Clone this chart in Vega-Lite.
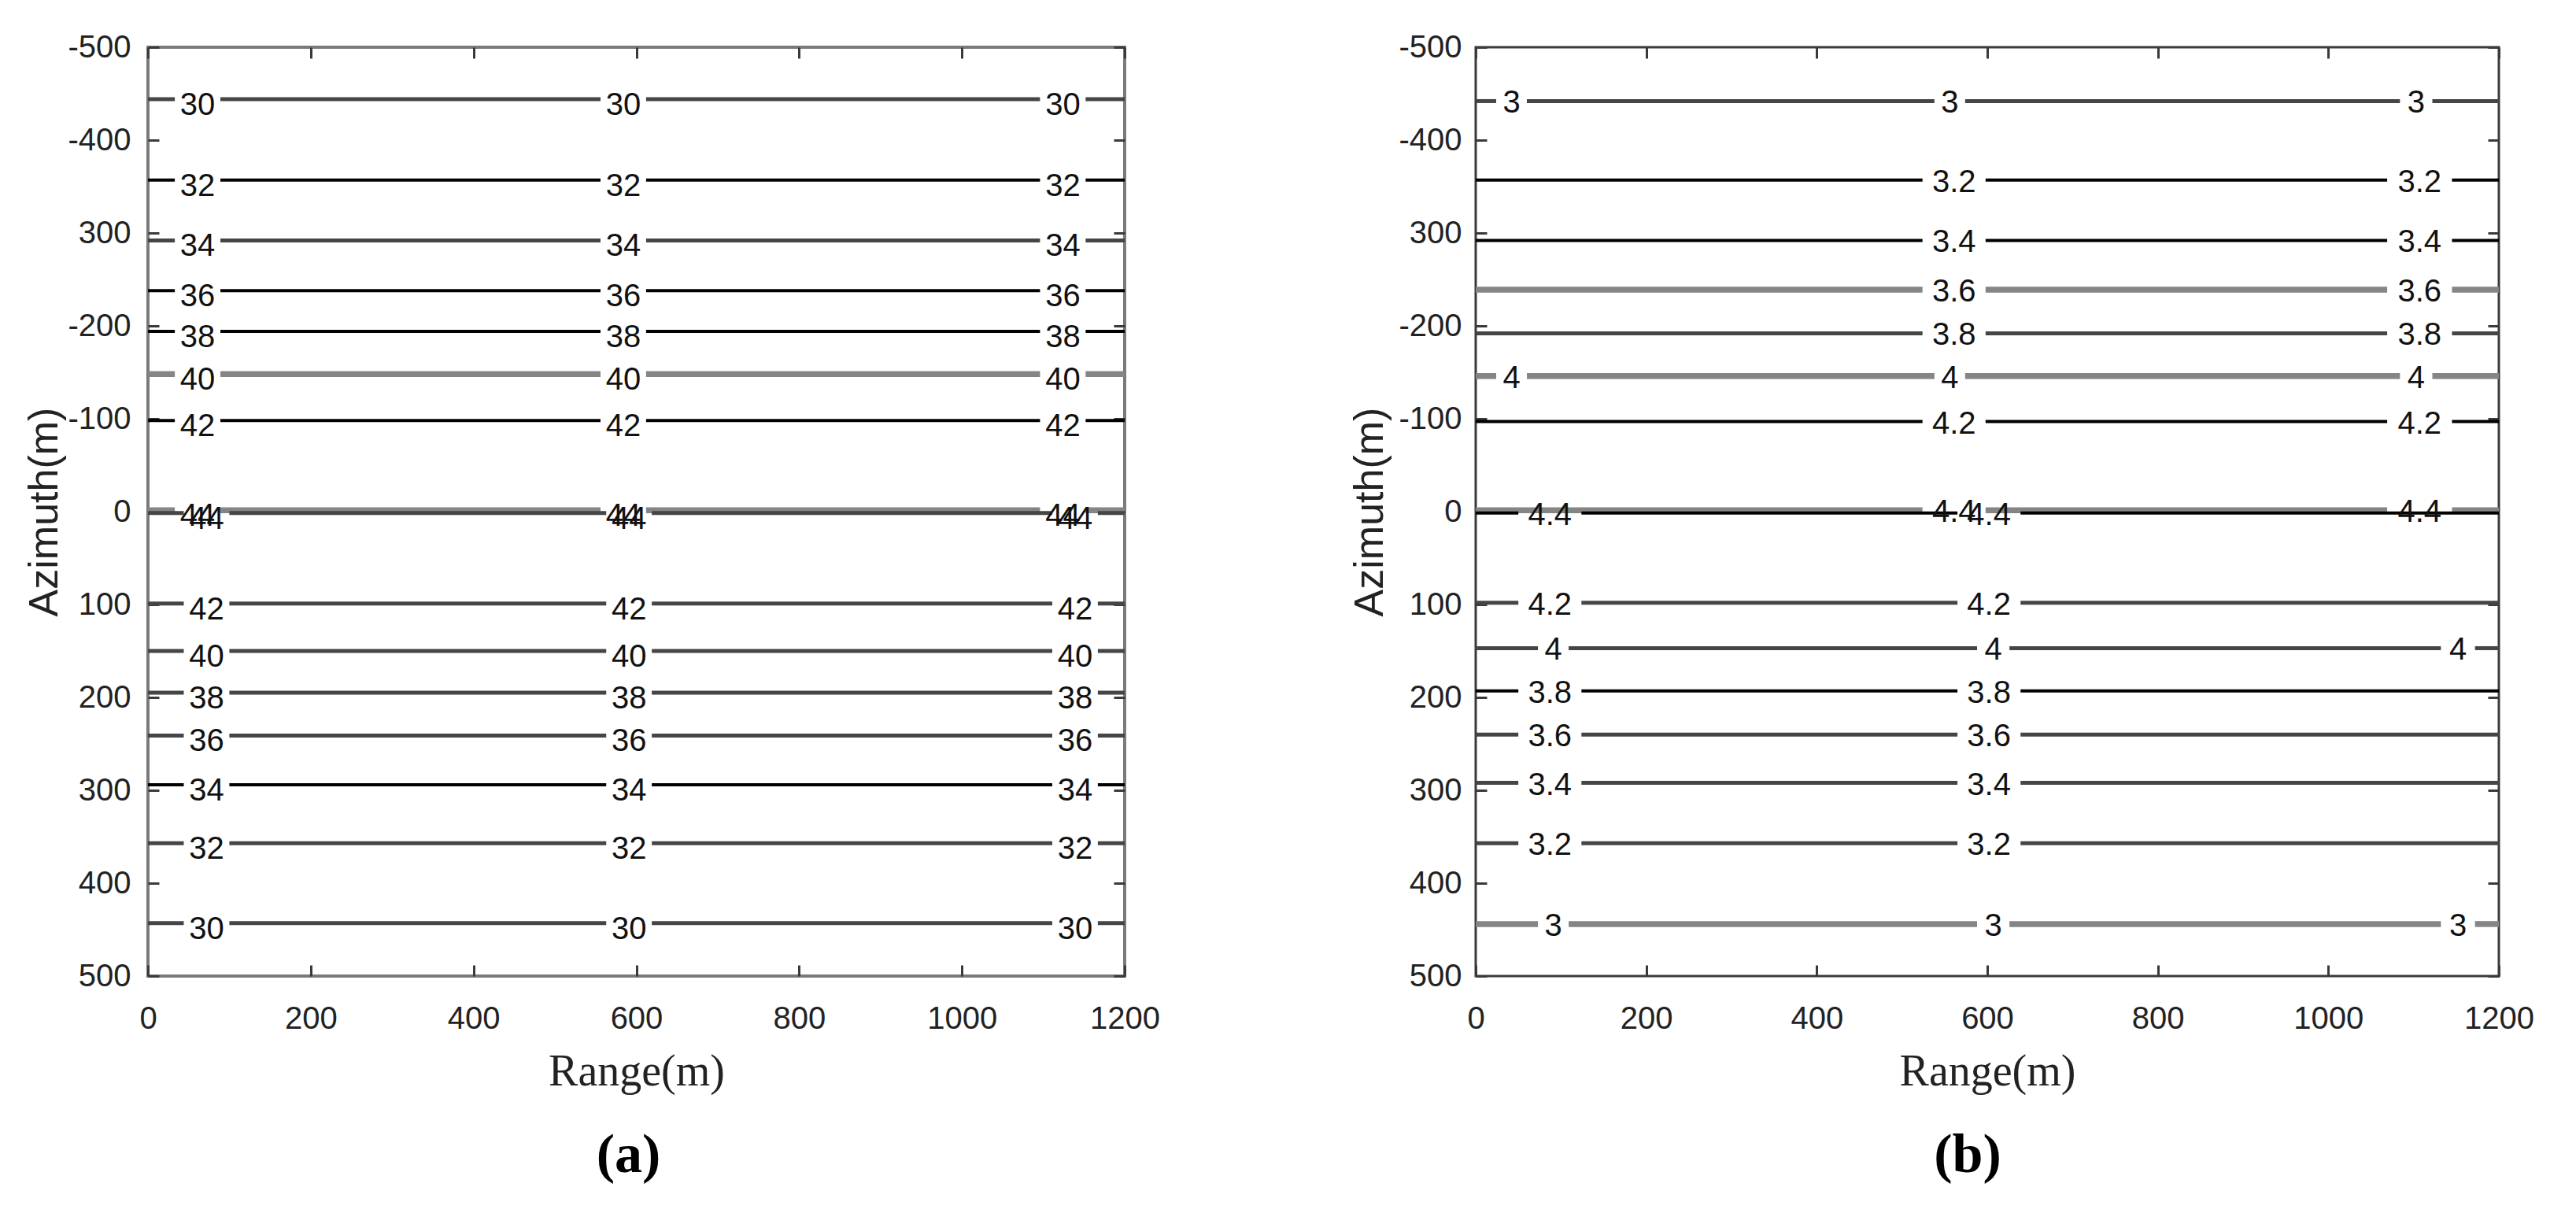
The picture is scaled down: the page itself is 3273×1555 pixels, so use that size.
{
  "$schema": "https://vega.github.io/schema/vega-lite/v6.json",
  "background": "white",
  "padding": {"left": 28, "top": 38, "right": 5, "bottom": 5},
  "spacing": 237,
  "config": {
    "axis": {"grid": false, "domain": false, "tickColor": "#3a3a3a", "tickWidth": 3, "tickSize": -14, "labelColor": "#222222", "titleColor": "#222222", "labelFlush": false, "labelOverlap": false},
    "title": {"color": "#000000"}
  },
  "datasets": {
    "seg": [
      {"p":"a","v":"30","y":-444,"x":0,"x2":33,"k":"dark"},{"p":"a","v":"30","y":-444,"x":89,"x2":556,"k":"dark"},{"p":"a","v":"30","y":-444,"x":612,"x2":1096,"k":"dark"},{"p":"a","v":"30","y":-444,"x":1152,"x2":1200,"k":"dark"},
      {"p":"a","v":"32","y":-357,"x":0,"x2":33,"k":"black"},{"p":"a","v":"32","y":-357,"x":89,"x2":556,"k":"black"},{"p":"a","v":"32","y":-357,"x":612,"x2":1096,"k":"black"},{"p":"a","v":"32","y":-357,"x":1152,"x2":1200,"k":"black"},
      {"p":"a","v":"34","y":-292,"x":0,"x2":33,"k":"dark"},{"p":"a","v":"34","y":-292,"x":89,"x2":556,"k":"dark"},{"p":"a","v":"34","y":-292,"x":612,"x2":1096,"k":"dark"},{"p":"a","v":"34","y":-292,"x":1152,"x2":1200,"k":"dark"},
      {"p":"a","v":"36","y":-238,"x":0,"x2":33,"k":"black"},{"p":"a","v":"36","y":-238,"x":89,"x2":556,"k":"black"},{"p":"a","v":"36","y":-238,"x":612,"x2":1096,"k":"black"},{"p":"a","v":"36","y":-238,"x":1152,"x2":1200,"k":"black"},
      {"p":"a","v":"38","y":-194,"x":0,"x2":33,"k":"black"},{"p":"a","v":"38","y":-194,"x":89,"x2":556,"k":"black"},{"p":"a","v":"38","y":-194,"x":612,"x2":1096,"k":"black"},{"p":"a","v":"38","y":-194,"x":1152,"x2":1200,"k":"black"},
      {"p":"a","v":"40","y":-148,"x":0,"x2":33,"k":"gray"},{"p":"a","v":"40","y":-148,"x":89,"x2":556,"k":"gray"},{"p":"a","v":"40","y":-148,"x":612,"x2":1096,"k":"gray"},{"p":"a","v":"40","y":-148,"x":1152,"x2":1200,"k":"gray"},
      {"p":"a","v":"42","y":-98,"x":0,"x2":33,"k":"black"},{"p":"a","v":"42","y":-98,"x":89,"x2":556,"k":"black"},{"p":"a","v":"42","y":-98,"x":612,"x2":1096,"k":"black"},{"p":"a","v":"42","y":-98,"x":1152,"x2":1200,"k":"black"},
      {"p":"a","v":"44","y":-1.5,"x":0,"x2":33,"k":"gray"},{"p":"a","v":"44","y":-1.5,"x":89,"x2":556,"k":"gray"},{"p":"a","v":"44","y":-1.5,"x":612,"x2":1096,"k":"gray"},{"p":"a","v":"44","y":-1.5,"x":1152,"x2":1200,"k":"gray"},
      {"p":"a","v":"44","y":1.5,"x":0,"x2":44,"k":"dark"},{"p":"a","v":"44","y":1.5,"x":100,"x2":563,"k":"dark"},{"p":"a","v":"44","y":1.5,"x":619,"x2":1111,"k":"dark"},{"p":"a","v":"44","y":1.5,"x":1167,"x2":1200,"k":"dark"},
      {"p":"a","v":"42","y":99,"x":0,"x2":44,"k":"dark"},{"p":"a","v":"42","y":99,"x":100,"x2":563,"k":"dark"},{"p":"a","v":"42","y":99,"x":619,"x2":1111,"k":"dark"},{"p":"a","v":"42","y":99,"x":1167,"x2":1200,"k":"dark"},
      {"p":"a","v":"40","y":150,"x":0,"x2":44,"k":"dark"},{"p":"a","v":"40","y":150,"x":100,"x2":563,"k":"dark"},{"p":"a","v":"40","y":150,"x":619,"x2":1111,"k":"dark"},{"p":"a","v":"40","y":150,"x":1167,"x2":1200,"k":"dark"},
      {"p":"a","v":"38","y":195,"x":0,"x2":44,"k":"dark"},{"p":"a","v":"38","y":195,"x":100,"x2":563,"k":"dark"},{"p":"a","v":"38","y":195,"x":619,"x2":1111,"k":"dark"},{"p":"a","v":"38","y":195,"x":1167,"x2":1200,"k":"dark"},
      {"p":"a","v":"36","y":241,"x":0,"x2":44,"k":"dark"},{"p":"a","v":"36","y":241,"x":100,"x2":563,"k":"dark"},{"p":"a","v":"36","y":241,"x":619,"x2":1111,"k":"dark"},{"p":"a","v":"36","y":241,"x":1167,"x2":1200,"k":"dark"},
      {"p":"a","v":"34","y":294,"x":0,"x2":44,"k":"black"},{"p":"a","v":"34","y":294,"x":100,"x2":563,"k":"black"},{"p":"a","v":"34","y":294,"x":619,"x2":1111,"k":"black"},{"p":"a","v":"34","y":294,"x":1167,"x2":1200,"k":"black"},
      {"p":"a","v":"32","y":357,"x":0,"x2":44,"k":"dark"},{"p":"a","v":"32","y":357,"x":100,"x2":563,"k":"dark"},{"p":"a","v":"32","y":357,"x":619,"x2":1111,"k":"dark"},{"p":"a","v":"32","y":357,"x":1167,"x2":1200,"k":"dark"},
      {"p":"a","v":"30","y":443,"x":0,"x2":44,"k":"dark"},{"p":"a","v":"30","y":443,"x":100,"x2":563,"k":"dark"},{"p":"a","v":"30","y":443,"x":619,"x2":1111,"k":"dark"},{"p":"a","v":"30","y":443,"x":1167,"x2":1200,"k":"dark"},

      {"p":"b","v":"3","y":-442,"x":0,"x2":24,"k":"dark"},{"p":"b","v":"3","y":-442,"x":60,"x2":538,"k":"dark"},{"p":"b","v":"3","y":-442,"x":574,"x2":1084,"k":"dark"},{"p":"b","v":"3","y":-442,"x":1122,"x2":1200,"k":"dark"},
      {"p":"b","v":"3.2","y":-357,"x":0,"x2":524,"k":"black"},{"p":"b","v":"3.2","y":-357,"x":598,"x2":1069,"k":"black"},{"p":"b","v":"3.2","y":-357,"x":1145,"x2":1200,"k":"black"},
      {"p":"b","v":"3.4","y":-292,"x":0,"x2":524,"k":"black"},{"p":"b","v":"3.4","y":-292,"x":598,"x2":1069,"k":"black"},{"p":"b","v":"3.4","y":-292,"x":1145,"x2":1200,"k":"black"},
      {"p":"b","v":"3.6","y":-239,"x":0,"x2":524,"k":"gray"},{"p":"b","v":"3.6","y":-239,"x":598,"x2":1069,"k":"gray"},{"p":"b","v":"3.6","y":-239,"x":1145,"x2":1200,"k":"gray"},
      {"p":"b","v":"3.8","y":-192,"x":0,"x2":524,"k":"dark"},{"p":"b","v":"3.8","y":-192,"x":598,"x2":1069,"k":"dark"},{"p":"b","v":"3.8","y":-192,"x":1145,"x2":1200,"k":"dark"},
      {"p":"b","v":"4","y":-146,"x":0,"x2":24,"k":"gray"},{"p":"b","v":"4","y":-146,"x":60,"x2":538,"k":"gray"},{"p":"b","v":"4","y":-146,"x":574,"x2":1084,"k":"gray"},{"p":"b","v":"4","y":-146,"x":1122,"x2":1200,"k":"gray"},
      {"p":"b","v":"4.2","y":-97,"x":0,"x2":524,"k":"black"},{"p":"b","v":"4.2","y":-97,"x":598,"x2":1069,"k":"black"},{"p":"b","v":"4.2","y":-97,"x":1145,"x2":1200,"k":"black"},
      {"p":"b","v":"4.4","y":-1.5,"x":0,"x2":524,"k":"gray"},{"p":"b","v":"4.4","y":-1.5,"x":598,"x2":1069,"k":"gray"},{"p":"b","v":"4.4","y":-1.5,"x":1145,"x2":1200,"k":"gray"},
      {"p":"b","v":"4.4","y":1.5,"x":0,"x2":50,"k":"black"},{"p":"b","v":"4.4","y":1.5,"x":124,"x2":565,"k":"black"},{"p":"b","v":"4.4","y":1.5,"x":639,"x2":1200,"k":"black"},
      {"p":"b","v":"4.2","y":98,"x":0,"x2":50,"k":"dark"},{"p":"b","v":"4.2","y":98,"x":124,"x2":565,"k":"dark"},{"p":"b","v":"4.2","y":98,"x":639,"x2":1200,"k":"dark"},
      {"p":"b","v":"4","y":147,"x":0,"x2":73,"k":"dark"},{"p":"b","v":"4","y":147,"x":109,"x2":588,"k":"dark"},{"p":"b","v":"4","y":147,"x":626,"x2":1132,"k":"dark"},{"p":"b","v":"4","y":147,"x":1172,"x2":1200,"k":"dark"},
      {"p":"b","v":"3.8","y":193,"x":0,"x2":50,"k":"black"},{"p":"b","v":"3.8","y":193,"x":124,"x2":565,"k":"black"},{"p":"b","v":"3.8","y":193,"x":639,"x2":1200,"k":"black"},
      {"p":"b","v":"3.6","y":240,"x":0,"x2":50,"k":"dark"},{"p":"b","v":"3.6","y":240,"x":124,"x2":565,"k":"dark"},{"p":"b","v":"3.6","y":240,"x":639,"x2":1200,"k":"dark"},
      {"p":"b","v":"3.4","y":292,"x":0,"x2":50,"k":"dark"},{"p":"b","v":"3.4","y":292,"x":124,"x2":565,"k":"dark"},{"p":"b","v":"3.4","y":292,"x":639,"x2":1200,"k":"dark"},
      {"p":"b","v":"3.2","y":357,"x":0,"x2":50,"k":"dark"},{"p":"b","v":"3.2","y":357,"x":124,"x2":565,"k":"dark"},{"p":"b","v":"3.2","y":357,"x":639,"x2":1200,"k":"dark"},
      {"p":"b","v":"3","y":444,"x":0,"x2":73,"k":"gray"},{"p":"b","v":"3","y":444,"x":109,"x2":588,"k":"gray"},{"p":"b","v":"3","y":444,"x":626,"x2":1132,"k":"gray"},{"p":"b","v":"3","y":444,"x":1172,"x2":1200,"k":"gray"}
    ],
    "lab": [
      {"p":"a","t":"30","x":61,"y":-444},{"p":"a","t":"30","x":584,"y":-444},{"p":"a","t":"30","x":1124,"y":-444},
      {"p":"a","t":"32","x":61,"y":-357},{"p":"a","t":"32","x":584,"y":-357},{"p":"a","t":"32","x":1124,"y":-357},
      {"p":"a","t":"34","x":61,"y":-292},{"p":"a","t":"34","x":584,"y":-292},{"p":"a","t":"34","x":1124,"y":-292},
      {"p":"a","t":"36","x":61,"y":-238},{"p":"a","t":"36","x":584,"y":-238},{"p":"a","t":"36","x":1124,"y":-238},
      {"p":"a","t":"38","x":61,"y":-194},{"p":"a","t":"38","x":584,"y":-194},{"p":"a","t":"38","x":1124,"y":-194},
      {"p":"a","t":"40","x":61,"y":-148},{"p":"a","t":"40","x":584,"y":-148},{"p":"a","t":"40","x":1124,"y":-148},
      {"p":"a","t":"42","x":61,"y":-98},{"p":"a","t":"42","x":584,"y":-98},{"p":"a","t":"42","x":1124,"y":-98},
      {"p":"a","t":"44","x":61,"y":-1.5},{"p":"a","t":"44","x":584,"y":-1.5},{"p":"a","t":"44","x":1124,"y":-1.5},
      {"p":"a","t":"44","x":72,"y":1.5},{"p":"a","t":"44","x":591,"y":1.5},{"p":"a","t":"44","x":1139,"y":1.5},
      {"p":"a","t":"42","x":72,"y":99},{"p":"a","t":"42","x":591,"y":99},{"p":"a","t":"42","x":1139,"y":99},
      {"p":"a","t":"40","x":72,"y":150},{"p":"a","t":"40","x":591,"y":150},{"p":"a","t":"40","x":1139,"y":150},
      {"p":"a","t":"38","x":72,"y":195},{"p":"a","t":"38","x":591,"y":195},{"p":"a","t":"38","x":1139,"y":195},
      {"p":"a","t":"36","x":72,"y":241},{"p":"a","t":"36","x":591,"y":241},{"p":"a","t":"36","x":1139,"y":241},
      {"p":"a","t":"34","x":72,"y":294},{"p":"a","t":"34","x":591,"y":294},{"p":"a","t":"34","x":1139,"y":294},
      {"p":"a","t":"32","x":72,"y":357},{"p":"a","t":"32","x":591,"y":357},{"p":"a","t":"32","x":1139,"y":357},
      {"p":"a","t":"30","x":72,"y":443},{"p":"a","t":"30","x":591,"y":443},{"p":"a","t":"30","x":1139,"y":443},

      {"p":"b","t":"3","x":42,"y":-442},{"p":"b","t":"3","x":556,"y":-442},{"p":"b","t":"3","x":1103,"y":-442},
      {"p":"b","t":"3.2","x":561,"y":-357},{"p":"b","t":"3.2","x":1107,"y":-357},
      {"p":"b","t":"3.4","x":561,"y":-292},{"p":"b","t":"3.4","x":1107,"y":-292},
      {"p":"b","t":"3.6","x":561,"y":-239},{"p":"b","t":"3.6","x":1107,"y":-239},
      {"p":"b","t":"3.8","x":561,"y":-192},{"p":"b","t":"3.8","x":1107,"y":-192},
      {"p":"b","t":"4","x":42,"y":-146},{"p":"b","t":"4","x":556,"y":-146},{"p":"b","t":"4","x":1103,"y":-146},
      {"p":"b","t":"4.2","x":561,"y":-97},{"p":"b","t":"4.2","x":1107,"y":-97},
      {"p":"b","t":"4.4","x":561,"y":-1.5},{"p":"b","t":"4.4","x":1107,"y":-1.5},
      {"p":"b","t":"4.4","x":87,"y":1.5},{"p":"b","t":"4.4","x":602,"y":1.5},
      {"p":"b","t":"4.2","x":87,"y":98},{"p":"b","t":"4.2","x":602,"y":98},
      {"p":"b","t":"4","x":91,"y":147},{"p":"b","t":"4","x":607,"y":147},{"p":"b","t":"4","x":1152,"y":147},
      {"p":"b","t":"3.8","x":87,"y":193},{"p":"b","t":"3.8","x":602,"y":193},
      {"p":"b","t":"3.6","x":87,"y":240},{"p":"b","t":"3.6","x":602,"y":240},
      {"p":"b","t":"3.4","x":87,"y":292},{"p":"b","t":"3.4","x":602,"y":292},
      {"p":"b","t":"3.2","x":87,"y":357},{"p":"b","t":"3.2","x":602,"y":357},
      {"p":"b","t":"3","x":91,"y":444},{"p":"b","t":"3","x":607,"y":444},{"p":"b","t":"3","x":1152,"y":444}
    ]
  },
  "hconcat": [
    {
      "width": 1241,
      "height": 1180,
      "view": {"stroke": "#7a7a7a", "strokeWidth": 4},
      "title": {"text": "(a)", "orient": "bottom", "anchor": "middle", "frame": "group", "font": "Liberation Serif", "fontSize": 70, "fontWeight": "bold", "offset": 45, "dx": -10},
      "layer": [
        {
          "data": {"name": "seg"},
          "transform": [{"filter": "datum.p == 'a'"}],
          "mark": {"type": "rule"},
          "encoding": {
            "x": {"field": "x", "type": "quantitative", "scale": {"domain": [0, 1200], "nice": false, "zero": false},
                  "axis": {"orient": "bottom", "values": [0, 200, 400, 600, 800, 1000, 1200], "labelExpr": "'' + datum.value", "title": "Range(m)", "titleFont": "Liberation Serif", "titleFontSize": 56, "titleFontWeight": "normal", "titlePadding": 20,
                           "labelFont": "Liberation Sans", "labelFontSize": 40, "labelPadding": 48}},
            "x2": {"field": "x2"},
            "y": {"field": "y", "type": "quantitative", "scale": {"domain": [-500, 500], "reverse": true, "nice": false, "zero": false},
                  "axis": {"orient": "left", "values": [-500, -400, -300, -200, -100, 0, 100, 200, 300, 400, 500], "labelExpr": "datum.value == -300 ? '300' : '' + datum.value", "title": "Azimuth(m)", "titleFont": "Liberation Sans", "titleFontSize": 52, "titleFontWeight": "normal", "titlePadding": 2,
                           "labelFont": "Liberation Sans", "labelFontSize": 40, "labelPadding": 36}},
            "color": {"field": "k", "type": "nominal", "scale": {"domain": ["black", "dark", "gray"], "range": ["#000000", "#454545", "#858585"]}, "legend": null},
            "strokeWidth": {"field": "k", "type": "nominal", "scale": {"type": "ordinal", "domain": ["black", "dark", "gray"], "range": [4, 5, 7.5]}, "legend": null}
          }
        },
        {
          "data": {"name": "lab"},
          "transform": [{"filter": "datum.p == 'a'"}],
          "mark": {"type": "text", "font": "Liberation Sans", "fontSize": 40, "dy": 8, "color": "#111111", "baseline": "middle", "align": "center"},
          "encoding": {
            "x": {"field": "x", "type": "quantitative", "scale": {"domain": [0, 1200], "nice": false, "zero": false},
                  "axis": {"orient": "top", "values": [0, 200, 400, 600, 800, 1000, 1200], "labels": false, "title": null}},
            "y": {"field": "y", "type": "quantitative", "scale": {"domain": [-500, 500], "reverse": true, "nice": false, "zero": false},
                  "axis": {"orient": "right", "values": [-500, -400, -300, -200, -100, 0, 100, 200, 300, 400, 500], "labels": false, "title": null}},
            "text": {"field": "t"}
          }
        }
      ],
      "resolve": {"axis": {"x": "independent", "y": "independent"}}
    },
    {
      "width": 1300,
      "height": 1180,
      "view": {"stroke": "#3a3a3a", "strokeWidth": 3},
      "title": {"text": "(b)", "orient": "bottom", "anchor": "middle", "frame": "group", "font": "Liberation Serif", "fontSize": 70, "fontWeight": "bold", "offset": 45, "dx": -25},
      "layer": [
        {
          "data": {"name": "seg"},
          "transform": [{"filter": "datum.p == 'b'"}],
          "mark": {"type": "rule"},
          "encoding": {
            "x": {"field": "x", "type": "quantitative", "scale": {"domain": [0, 1200], "nice": false, "zero": false},
                  "axis": {"orient": "bottom", "values": [0, 200, 400, 600, 800, 1000, 1200], "labelExpr": "'' + datum.value", "title": "Range(m)", "titleFont": "Liberation Serif", "titleFontSize": 56, "titleFontWeight": "normal", "titlePadding": 20,
                           "labelFont": "Liberation Sans", "labelFontSize": 40, "labelPadding": 48}},
            "x2": {"field": "x2"},
            "y": {"field": "y", "type": "quantitative", "scale": {"domain": [-500, 500], "reverse": true, "nice": false, "zero": false},
                  "axis": {"orient": "left", "values": [-500, -400, -300, -200, -100, 0, 100, 200, 300, 400, 500], "labelExpr": "datum.value == -300 ? '300' : '' + datum.value", "title": "Azimuth(m)", "titleFont": "Liberation Sans", "titleFontSize": 52, "titleFontWeight": "normal", "titlePadding": 9,
                           "labelFont": "Liberation Sans", "labelFontSize": 40, "labelPadding": 32}},
            "color": {"field": "k", "type": "nominal", "scale": {"domain": ["black", "dark", "gray"], "range": ["#000000", "#454545", "#858585"]}, "legend": null},
            "strokeWidth": {"field": "k", "type": "nominal", "scale": {"type": "ordinal", "domain": ["black", "dark", "gray"], "range": [4, 5, 7.5]}, "legend": null}
          }
        },
        {
          "data": {"name": "lab"},
          "transform": [{"filter": "datum.p == 'b'"}],
          "mark": {"type": "text", "font": "Liberation Sans", "fontSize": 40, "dy": 3, "color": "#111111", "baseline": "middle", "align": "center"},
          "encoding": {
            "x": {"field": "x", "type": "quantitative", "scale": {"domain": [0, 1200], "nice": false, "zero": false},
                  "axis": {"orient": "top", "values": [0, 200, 400, 600, 800, 1000, 1200], "labels": false, "title": null}},
            "y": {"field": "y", "type": "quantitative", "scale": {"domain": [-500, 500], "reverse": true, "nice": false, "zero": false},
                  "axis": {"orient": "right", "values": [-500, -400, -300, -200, -100, 0, 100, 200, 300, 400, 500], "labels": false, "title": null}},
            "text": {"field": "t"}
          }
        }
      ],
      "resolve": {"axis": {"x": "independent", "y": "independent"}}
    }
  ]
}
